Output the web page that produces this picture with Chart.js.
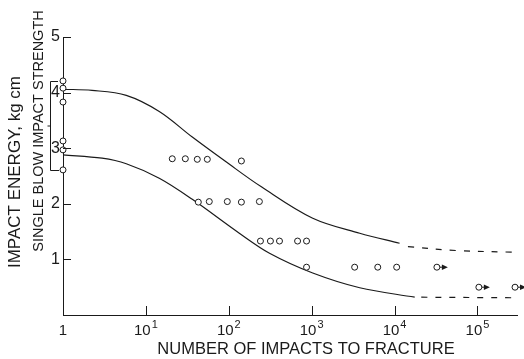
<!DOCTYPE html>
<html>
<head>
<meta charset="utf-8">
<script src="https://cdn.jsdelivr.net/npm/chart.js@4.4.1/dist/chart.umd.min.js"></script>
<style>
  html, body { margin: 0; padding: 0; background: #fff; }
  canvas { display: block; }
</style>
</head>
<body>
<canvas id="impactChart" width="524" height="359"></canvas>
<script>
// tick values
const xTicks = [1, 10, 100, 1000, 10000, 100000];
const yTicks = [1, 2, 3, 4, 5];

// single blow results (plotted at 1 impact)
const singleX = [1, 1, 1, 1, 1, 1];
const singleY = [4.21, 4.08, 3.83, 3.13, 2.97, 2.61];

// repeated impact results
const testX = [20.8, 29.9, 41.7, 55.1, 142, 42.9, 58.2, 96, 142, 234, 241, 318, 409, 676, 867, 867, 3300, 6270, 10600];
const testY = [2.81, 2.81, 2.80, 2.80, 2.77, 2.03, 2.04, 2.04, 2.03, 2.04, 1.33, 1.33, 1.33, 1.33, 1.33, 0.86, 0.86, 0.86, 0.86];

// unbroken specimens (arrows)
const runoutX = [32400, 104000, 284000];
const runoutY = [0.86, 0.5, 0.5];

// scatter band boundaries
const upperX = [1, 2.24, 5.8, 14.5, 36.3, 93.6, 250, 1030, 3800, 11500];
const upperY = [4.06, 4.04, 3.95, 3.66, 3.20, 2.75, 2.30, 1.74, 1.47, 1.29];
const upperDashX = [14500, 55000, 262000];
const upperDashY = [1.23, 1.16, 1.13];
const lowerX = [1, 2.96, 5.8, 14.5, 36.3, 134, 310, 1030, 3800, 17500];
const lowerY = [2.88, 2.82, 2.72, 2.46, 2.08, 1.47, 1.11, 0.755, 0.49, 0.32];
const lowerDashX = [21000, 290000];
const lowerDashY = [0.32, 0.31];

const ink = '#1a1a1a';
const fontFamily = '"Liberation Sans", Arial, sans-serif';

const pts = (xs, ys) => xs.map((v, i) => ({ x: v, y: ys[i] }));

const curve = (xs, ys, dash) => ({
  data: pts(xs, ys),
  showLine: true,
  pointRadius: 0,
  borderColor: ink,
  borderWidth: 1.2,
  borderDash: dash || [],
  tension: 0.35,
  clip: false
});

const circles = (xs, ys) => ({
  data: pts(xs, ys),
  showLine: false,
  pointStyle: 'circle',
  pointRadius: 3,
  pointBorderWidth: 1,
  pointBorderColor: ink,
  pointBackgroundColor: '#fff',
  clip: false
});

// ticks, tick labels, titles, bracket, arrows
const annotate = {
  id: 'annotate',
  afterDraw(chart) {
    const { ctx, chartArea: a, scales: { x, y } } = chart;
    ctx.save();
    ctx.strokeStyle = ink;
    ctx.fillStyle = ink;
    ctx.lineWidth = 1;

    const line = (x1, y1, x2, y2) => {
      ctx.beginPath();
      ctx.moveTo(x1, y1);
      ctx.lineTo(x2, y2);
      ctx.stroke();
    };

    // inward ticks
    yTicks.forEach(v => {
      const py = Math.round(y.getPixelForValue(v)) + 0.5;
      line(a.left, py, a.left + 8, py);
    });
    xTicks.slice(1).forEach(v => {
      const px = Math.round(x.getPixelForValue(v)) + 0.5;
      line(px, a.bottom, px, a.bottom - 9);
    });

    // x tick labels with exponents
    ctx.textBaseline = 'alphabetic';
    xTicks.forEach((v, i) => {
      const px = x.getPixelForValue(v);
      const base = i === 0 ? '1' : '10';
      const exp = i === 0 ? '' : String(i);
      ctx.font = '15px ' + fontFamily;
      const wb = ctx.measureText(base).width;
      ctx.font = '11px ' + fontFamily;
      const we = exp ? ctx.measureText(exp).width + 1 : 0;
      const x0 = px - (wb + we) / 2;
      ctx.textAlign = 'left';
      ctx.font = '15px ' + fontFamily;
      ctx.fillText(base, x0, a.bottom + 20);
      if (exp) {
        ctx.font = '11px ' + fontFamily;
        ctx.fillText(exp, x0 + wb + 1, a.bottom + 13);
      }
    });

    // x title
    ctx.textAlign = 'center';
    ctx.textBaseline = 'middle';
    ctx.font = '16.5px ' + fontFamily;
    ctx.fillText('NUMBER OF IMPACTS TO FRACTURE', 306, 349);

    // y titles
    ctx.save();
    ctx.translate(15, 172);
    ctx.rotate(-Math.PI / 2);
    ctx.font = '17px ' + fontFamily;
    ctx.fillText('IMPACT ENERGY, kg cm', 0, 0);
    ctx.restore();

    ctx.save();
    ctx.translate(39, 131);
    ctx.rotate(-Math.PI / 2);
    ctx.font = '14.5px ' + fontFamily;
    ctx.fillText('SINGLE BLOW IMPACT STRENGTH', 0, 0);
    ctx.restore();

    // bracket over the single blow spread
    const top = Math.round(y.getPixelForValue(Math.max(...singleY))) + 0.5;
    const bot = Math.round(y.getPixelForValue(Math.min(...singleY))) + 0.5;
    const bx = 50.5;
    ctx.beginPath();
    ctx.moveTo(a.left - 5, top);
    ctx.lineTo(bx, top);
    ctx.lineTo(bx, bot);
    ctx.lineTo(a.left - 4, bot);
    ctx.stroke();
    line(bx - 3, (top + bot) / 2, bx, (top + bot) / 2);

    // arrows on unbroken specimens
    const meta = chart.getDatasetMeta(1);
    meta.data.forEach(p => {
      line(p.x + 3, p.y, p.x + 6, p.y);
      ctx.beginPath();
      ctx.moveTo(p.x + 5, p.y - 2.8);
      ctx.lineTo(p.x + 11, p.y);
      ctx.lineTo(p.x + 5, p.y + 2.8);
      ctx.closePath();
      ctx.fill();
    });

    ctx.restore();
  }
};

new Chart(document.getElementById('impactChart').getContext('2d'), {
  type: 'scatter',
  data: {
    datasets: [
      circles(singleX.concat(testX), singleY.concat(testY)),
      circles(runoutX, runoutY),
      curve(upperX, upperY),
      curve(upperDashX, upperDashY, [6, 8]),
      curve(lowerX, lowerY),
      curve(lowerDashX, lowerDashY, [6, 8])
    ]
  },
  options: {
    responsive: false,
    animation: false,
    layout: { padding: { top: 37, right: 7, left: 0, bottom: 0 } },
    plugins: { legend: { display: false }, tooltip: { enabled: false } },
    scales: {
      x: {
        type: 'logarithmic',
        min: 1,
        max: 300000,
        afterBuildTicks: s => { s.ticks = xTicks.map(v => ({ value: v })); },
        afterFit: s => { s.height = 44; },
        grid: { display: false, drawTicks: false },
        border: { display: true, color: ink, width: 1 },
        ticks: { display: false }
      },
      y: {
        min: 0,
        max: 5,
        afterFit: s => { s.width = 63; },
        grid: { display: false, drawTicks: false },
        border: { display: true, color: ink, width: 1 },
        ticks: {
          stepSize: 1,
          padding: 3,
          color: ink,
          font: { family: fontFamily, size: 16 },
          callback: v => (v === 0 ? '' : v)
        }
      }
    }
  },
  plugins: [annotate]
});
</script>
</body>
</html>
